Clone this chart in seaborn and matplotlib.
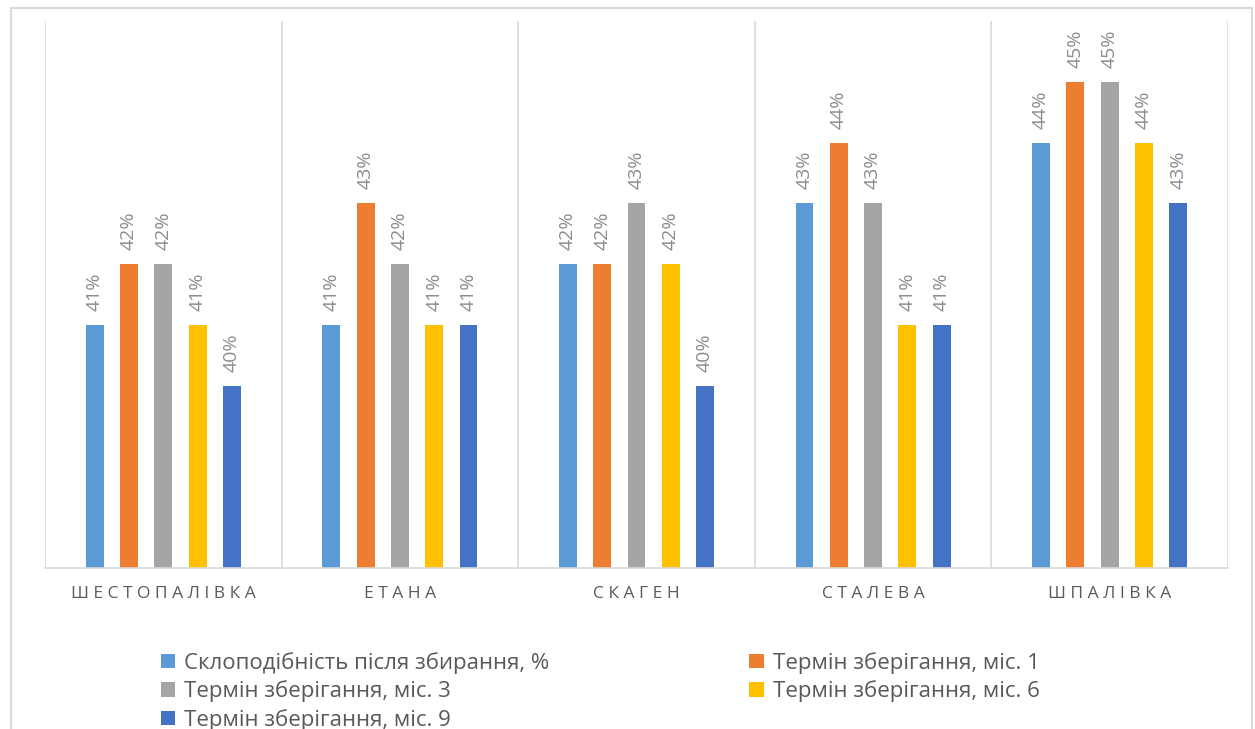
import numpy as np
import pandas as pd
import matplotlib
matplotlib.use("Agg")
import matplotlib.pyplot as plt
import matplotlib.patches as mpatches
import matplotlib.lines as mlines
import seaborn as sns

# ---- дані ----
varieties = ["Шестопалівка", "Етана", "Скаген", "Сталева", "Шпалівка"]
series = ["Склоподібність після збирання, %",
          "Термін зберігання, міс. 1",
          "Термін зберігання, міс. 3",
          "Термін зберігання, міс. 6",
          "Термін зберігання, міс. 9"]
after_harvest = [41, 41, 42, 43, 44]
month_1 = [42, 43, 42, 44, 45]
month_3 = [42, 42, 43, 43, 45]
month_6 = [41, 41, 42, 41, 44]
month_9 = [40, 41, 40, 41, 43]
colors = ["#5B9BD5", "#ED7D31", "#A5A5A5", "#FFC000", "#4472C4"]

values = [after_harvest, month_1, month_3, month_6, month_9]
df = pd.DataFrame({
    "variety": np.tile(varieties, len(series)),
    "series": np.repeat(series, len(varieties)),
    "value": np.concatenate(values),
})

sns.set_theme(style="white")
plt.rcParams["font.family"] = ["Open Sans", "DejaVu Sans"]

fig = plt.figure(figsize=(12.55, 7.29), dpi=100)
ax = fig.add_axes([45 / 1255, 1 - 568 / 729, (1228 - 45) / 1255, (568 - 21) / 729])

sns.barplot(data=df, x="variety", y="value", hue="series", hue_order=series,
            palette=colors, width=0.725, gap=0.48, legend=False, ax=ax,
            saturation=1, edgecolor="none", linewidth=0)

for cont in ax.containers:
    labels = [f"{int(round(b.get_height()))}%" for b in cont]
    ax.bar_label(cont, labels=labels, rotation=90, padding=10,
                 color="#8C8C8C", fontsize=14)

ax.set_ylim(37, 46)
ax.set_xlim(-0.5, len(varieties) - 0.5)
ax.set_yticks([])
ax.set_xlabel("")
ax.set_ylabel("")
for s in ["top", "left", "right"]:
    ax.spines[s].set_visible(False)
ax.spines["bottom"].set_color("#D9D9D9")
ax.spines["bottom"].set_linewidth(1.2)
for x in np.arange(-0.5, len(varieties), 1):
    ax.axvline(x, color="#D9D9D9", linewidth=1.2, zorder=0)

ax.set_xticks(range(len(varieties)))
ax.set_xticklabels([" ".join(v.upper()) for v in varieties],
                   color="#595959", fontsize=12.5)
ax.tick_params(axis="x", length=0, pad=13)

# рамка діаграми
border = dict(color="#D9D9D9", linewidth=1.5, transform=fig.transFigure)
fig.add_artist(mlines.Line2D([11 / 1255, 1252 / 1255], [1 - 8 / 729] * 2, **border))
fig.add_artist(mlines.Line2D([11 / 1255] * 2, [0, 1 - 8 / 729], **border))
fig.add_artist(mlines.Line2D([1252 / 1255] * 2, [0, 1 - 8 / 729], **border))

# легенда (порядок рядками, як у Excel)
order = [0, 2, 4, 1, 3]
handles = [mpatches.Patch(facecolor=colors[i], edgecolor="none") for i in order]
fig.legend(handles, [series[i] for i in order], ncol=2, frameon=False,
           loc="upper left", bbox_to_anchor=(152 / 1255, 1 - 643 / 729),
           fontsize=16, handlelength=0.65, handleheight=0.65, handletextpad=0.4,
           columnspacing=9.0, labelspacing=0.3, borderaxespad=0,
           labelcolor="#595959")

fig.savefig("out.png", dpi=100)
